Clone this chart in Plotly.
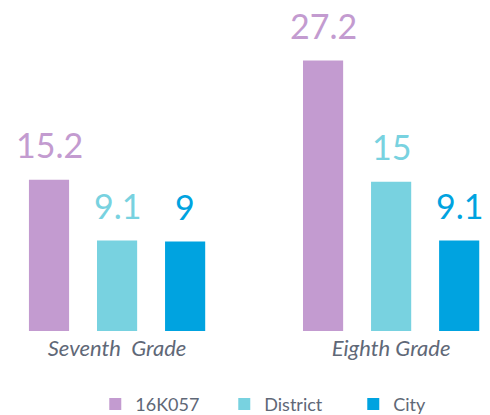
import plotly.graph_objects as go

categories = ["Seventh  Grade", "Eighth Grade"]
series_names = ["16K057", "District", "City"]
school_vals = [15.2, 27.2]
district_vals = [9.1, 15]
city_vals = [9, 9.1]
colors = ["#C39BD0", "#78D2E0", "#00A3E0"]

BARGAP = 0.255
x_idx = [0, 1]
slot = (1 - BARGAP) / len(series_names)

fig = go.Figure()
annotations = []
for i, (name, vals, col) in enumerate(zip(series_names, [school_vals, district_vals, city_vals], colors)):
    fig.add_trace(go.Bar(
        x=x_idx, y=vals, name=name, marker=dict(color=col, line=dict(width=0)),
    ))
    for xi, v in zip(x_idx, vals):
        annotations.append(dict(
            x=xi + (i - 1) * slot, y=v, xref="x", yref="y", text=f"{v:g}",
            showarrow=False, yanchor="bottom", xanchor="center", yshift=13,
            font=dict(family="Lato", size=34, color=col),
        ))

fig.update_layout(
    barmode="group", bargap=BARGAP, bargroupgap=0.41,
    width=490, height=415,
    margin=dict(l=0, r=0, t=0, b=85),
    plot_bgcolor="white", paper_bgcolor="white",
    annotations=annotations,
    xaxis=dict(range=[-0.398, 1.390], tickmode="array", tickvals=x_idx, ticktext=categories,
               showgrid=False, zeroline=False, showline=False, ticks="", ticklabelstandoff=2,
               tickfont=dict(family="Lato", size=22, color="#5F6877", style="italic")),
    yaxis=dict(range=[0, 32.48], visible=False),
    showlegend=True,
    legend=dict(orientation="h", x=0.573, xanchor="center", y=-0.227, yanchor="middle",
                font=dict(family="Lato", size=18, color="#5F6877"),
                entrywidth=84, entrywidthmode="pixels", itemwidth=30),
)
fig.write_html("out.html")
